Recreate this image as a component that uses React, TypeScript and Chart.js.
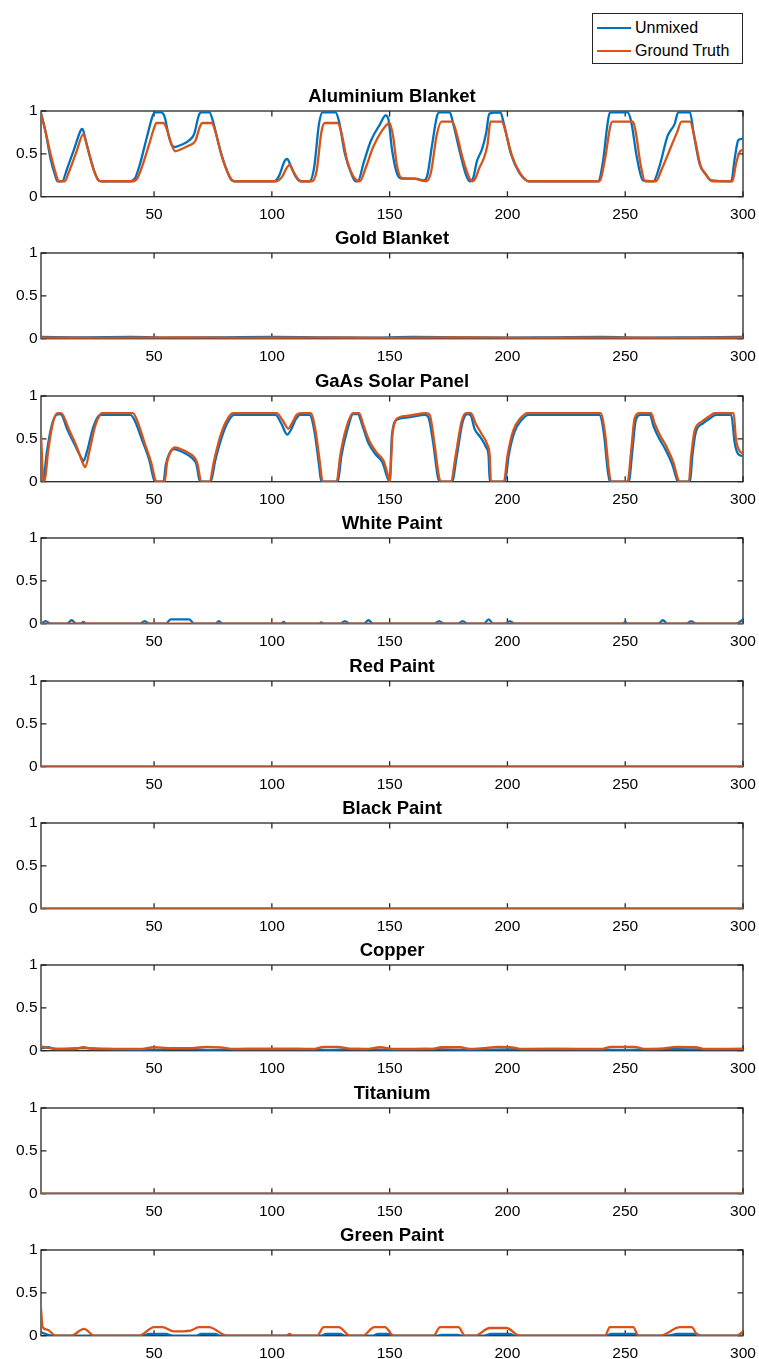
import React, { useEffect, useRef } from "react";
import { Chart, registerables } from "chart.js";

Chart.register(...registerables);

type Pt = [number, number];

const FONT = "'Liberation Sans', Arial, Helvetica, sans-serif";
const BLUE = "#0072BD";
const ORANGE = "#D95319";
const AXIS_COLOR = "#262626";

const xMin = 2;
const xMax = 300;
const xTickValues = [50, 100, 150, 200, 250, 300];
const yTickValues = [0, 0.5, 1];
const seriesNames = ["Unmixed", "Ground Truth"];
const panelTitles = [
  "Aluminium Blanket",
  "Gold Blanket",
  "GaAs Solar Panel",
  "White Paint",
  "Red Paint",
  "Black Paint",
  "Copper",
  "Titanium",
  "Green Paint",
];

const aluminiumUnmixed: Pt[] = [
  [2, 0.98], [4, 0.75], [6, 0.45], [8, 0.25], [9, 0.18], [11, 0.18], [13, 0.32], [16, 0.55], [19, 0.78], [19.6, 0.79],
  [21, 0.65], [24, 0.35], [26.5, 0.19], [28, 0.18], [40, 0.18], [42, 0.22], [44, 0.38], [47, 0.7], [49.5, 0.95], [50.5, 0.985],
  [53, 0.985], [54.5, 0.93], [56.5, 0.68], [58.5, 0.58], [62, 0.61], [65, 0.66], [67, 0.73], [69, 0.95], [70, 0.985], [73.5, 0.985],
  [75, 0.88], [78, 0.55], [81, 0.3], [83, 0.19], [85, 0.18], [101, 0.18], [103, 0.24], [105.5, 0.42], [106.5, 0.44], [108, 0.36],
  [110, 0.24], [112, 0.18], [116, 0.18], [118, 0.35], [120, 0.85], [121.5, 0.985], [127, 0.985], [128.5, 0.88], [131, 0.5], [134, 0.25],
  [135.5, 0.18], [136.5, 0.18], [139, 0.4], [142, 0.65], [146, 0.85], [148.3, 0.95], [149.5, 0.9], [151, 0.55], [153, 0.28], [155, 0.21],
  [161, 0.21], [164.5, 0.19], [166, 0.25], [168, 0.6], [170, 0.93], [171, 0.985], [175.5, 0.985], [177, 0.85], [180, 0.5], [182.5, 0.25],
  [184, 0.18], [185.5, 0.22], [187, 0.41], [189.3, 0.56], [191, 0.75], [192.3, 0.97], [197, 0.985], [198.5, 0.85], [201.5, 0.5], [205, 0.28],
  [208, 0.19], [209, 0.18], [238.5, 0.18], [240.5, 0.4], [242.5, 0.85], [243.5, 0.985], [251, 0.985], [252.5, 0.88], [255, 0.45], [257.5, 0.19],
  [262, 0.18], [264.5, 0.35], [268, 0.71], [271, 0.85], [272.5, 0.985], [277.5, 0.985], [279, 0.75], [281.6, 0.38], [284, 0.27], [286.5, 0.19],
  [295, 0.18], [296.5, 0.45], [298, 0.66], [300, 0.68],
];
const aluminiumTruth: Pt[] = [
  [2, 0.97], [4, 0.75], [6.5, 0.45], [8.5, 0.25], [9.5, 0.18], [12, 0.18], [14, 0.3], [17, 0.52], [20, 0.73], [21.5, 0.6],
  [24.5, 0.3], [27, 0.18], [41, 0.18], [43, 0.22], [45, 0.36], [48, 0.62], [50, 0.8], [51, 0.86], [54, 0.86], [55.5, 0.78],
  [57.5, 0.6], [59, 0.53], [62, 0.56], [65, 0.6], [67.5, 0.65], [69.5, 0.82], [70.5, 0.86], [74.5, 0.86], [76, 0.76], [79, 0.45],
  [82, 0.24], [84, 0.18], [102, 0.18], [104, 0.22], [107.5, 0.37], [109, 0.3], [111, 0.21], [112.5, 0.18], [117, 0.18], [119, 0.3],
  [121, 0.75], [122.5, 0.86], [128, 0.86], [129.5, 0.75], [132, 0.42], [135, 0.22], [137.3, 0.18], [140, 0.35], [143, 0.58], [147, 0.78],
  [150, 0.86], [151.5, 0.7], [153, 0.38], [155, 0.22], [160, 0.21], [165.5, 0.18], [167.5, 0.28], [170, 0.72], [172, 0.875], [176.5, 0.875],
  [178, 0.78], [181, 0.45], [183.5, 0.24], [185, 0.18], [186.5, 0.22], [188, 0.33], [190, 0.45], [191.5, 0.6], [192.8, 0.875], [197.7, 0.875],
  [199, 0.78], [202, 0.47], [205.5, 0.27], [209, 0.18], [239, 0.18], [241.5, 0.45], [243.5, 0.8], [244.5, 0.875], [253.3, 0.875], [254.5, 0.75],
  [256.5, 0.38], [258.5, 0.18], [263, 0.18], [265.5, 0.32], [269.7, 0.6], [272, 0.75], [273.9, 0.875], [277.5, 0.875], [279.5, 0.68], [282, 0.36],
  [284.5, 0.25], [287, 0.18], [295.5, 0.18], [297, 0.38], [298.5, 0.52], [300, 0.55],
];

const goldUnmixed: Pt[] = [
  [2, 0.02], [20, 0.015], [40, 0.02], [60, 0.012], [80, 0.016], [100, 0.02], [120, 0.015], [140, 0.012], [160, 0.02],
  [180, 0.015], [200, 0.012], [220, 0.016], [240, 0.02], [260, 0.012], [280, 0.016], [300, 0.02],
];
const goldTruth: Pt[] = [
  [2, 0.012], [30, 0.01], [60, 0.014], [90, 0.01], [120, 0.012], [150, 0.01], [180, 0.014], [210, 0.01], [240, 0.012],
  [270, 0.01], [300, 0.012],
];

const gaasUnmixed: Pt[] = [
  [2, 0.0], [3, 0.02], [4.5, 0.35], [6.5, 0.65], [8.5, 0.78], [10, 0.79], [11, 0.77], [13, 0.62], [16, 0.45], [19.5, 0.26],
  [20, 0.24], [21.5, 0.35], [24, 0.62], [26.5, 0.77], [27.5, 0.78], [40, 0.78], [42, 0.7], [45, 0.48], [48, 0.25], [50, 0.02],
  [51, 0], [54, 0], [55, 0.2], [56.5, 0.33], [58.5, 0.38], [60, 0.37], [64.5, 0.31], [67, 0.25], [68, 0.2], [69.5, 0],
  [74, 0], [76, 0.25], [78.5, 0.5], [81, 0.68], [84, 0.78], [101.5, 0.78], [104, 0.68], [106.5, 0.55], [108, 0.6], [110, 0.72],
  [112, 0.78], [116, 0.78], [118, 0.6], [120, 0.2], [121, 0], [128, 0], [129.5, 0.3], [132, 0.6], [134.5, 0.79], [136.5, 0.79],
  [138.5, 0.65], [141, 0.45], [144, 0.32], [147, 0.22], [149, 0.05], [150, 0.0], [151, 0.55], [153.5, 0.73], [158, 0.75], [165, 0.78],
  [166.5, 0.75], [168.5, 0.45], [170.5, 0.05], [171.5, 0], [176.5, 0], [178.5, 0.3], [181, 0.7], [183, 0.79], [184.5, 0.77], [186, 0.62],
  [188.5, 0.52], [191, 0.4], [192, 0.3], [192.5, 0], [199, 0], [200.5, 0.3], [203, 0.58], [206, 0.72], [209, 0.78], [239, 0.78],
  [241, 0.55], [242.5, 0.15], [243.5, 0], [251.5, 0], [253, 0.35], [254.5, 0.72], [256.5, 0.78], [260.5, 0.78], [262, 0.65], [264.5, 0.5],
  [267, 0.38], [270, 0.2], [272, 0.02], [272.5, 0], [277.5, 0], [278.5, 0.3], [280, 0.58], [283, 0.68], [286, 0.74], [288.5, 0.78],
  [295, 0.78], [296.5, 0.45], [298, 0.32], [300, 0.3],
];
const gaasTruth: Pt[] = [
  [2, 0.55], [3, 0.02], [3.5, 0], [5, 0.35], [7, 0.68], [9, 0.8], [10.5, 0.8], [11.5, 0.77], [14, 0.6], [17, 0.42],
  [20, 0.2], [20.8, 0.17], [22.5, 0.35], [25, 0.65], [27, 0.78], [28, 0.8], [41, 0.8], [43, 0.7], [46, 0.45], [49, 0.2],
  [50.5, 0.02], [51, 0], [54.5, 0], [55.5, 0.22], [57, 0.35], [59, 0.4], [60.5, 0.39], [65, 0.33], [67.5, 0.27], [68.5, 0.2],
  [70, 0], [73.5, 0], [75.5, 0.25], [78, 0.52], [80.5, 0.7], [83.5, 0.8], [102, 0.8], [104.5, 0.72], [107, 0.62], [108.5, 0.68],
  [110.5, 0.78], [112.5, 0.8], [116.5, 0.8], [118.5, 0.6], [120.5, 0.2], [121.5, 0], [127.5, 0], [129, 0.3], [131.5, 0.62], [134.5, 0.8],
  [137, 0.8], [139, 0.65], [141.5, 0.47], [144.5, 0.34], [147.5, 0.24], [149.5, 0.05], [150, 0], [151.3, 0.58], [154, 0.75], [158, 0.77],
  [165.5, 0.8], [167, 0.78], [169, 0.45], [171, 0.05], [172, 0], [176, 0], [178, 0.3], [180.5, 0.7], [182.5, 0.8], [184.5, 0.8],
  [186.5, 0.68], [189, 0.56], [191.5, 0.43], [192.5, 0.3], [193, 0], [198.5, 0], [200, 0.3], [202.5, 0.6], [205.5, 0.74], [208.5, 0.8],
  [239.5, 0.8], [241.5, 0.55], [243, 0.15], [244, 0], [251, 0], [252.5, 0.35], [254, 0.74], [256, 0.8], [261, 0.8], [262.5, 0.68],
  [265, 0.53], [267.5, 0.41], [270.5, 0.22], [272.5, 0.02], [273, 0], [277, 0], [278, 0.3], [279.5, 0.6], [282.5, 0.7], [285.5, 0.76],
  [288, 0.8], [296, 0.8], [297, 0.5], [298.5, 0.36], [300, 0.33],
];

const whiteUnmixed: Pt[] = [
  [2, 0], [4, 0.03], [6, 0], [13, 0], [15, 0.04], [17, 0], [19, 0], [20, 0.02], [21, 0], [44, 0], [46, 0.03], [48, 0],
  [55, 0], [57, 0.05], [65, 0.05], [67, 0], [76, 0], [77.5, 0.03], [79, 0], [104, 0], [105, 0.02], [106, 0], [120, 0],
  [121, 0.015], [122, 0], [129, 0], [131, 0.03], [133, 0], [139, 0], [141, 0.04], [143, 0], [169, 0], [171, 0.03], [173, 0],
  [179, 0], [181, 0.03], [183, 0], [190, 0], [192, 0.05], [194, 0], [199, 0], [201, 0.03], [203, 0], [249, 0], [250, 0.02],
  [251, 0], [264, 0], [266, 0.04], [268, 0], [276, 0], [278, 0.03], [280, 0], [297, 0], [300, 0.05],
];
const whiteTruth: Pt[] = [[2, 0], [300, 0]];

const redUnmixed: Pt[] = [[2, 0], [300, 0]];
const redTruth: Pt[] = [[2, 0], [300, 0]];

const blackUnmixed: Pt[] = [[2, 0], [300, 0]];
const blackTruth: Pt[] = [[2, 0], [300, 0]];

const copperUnmixed: Pt[] = [
  [2, 0.03], [5, 0.04], [8, 0.02], [20, 0.03], [30, 0.02], [50, 0.01], [60, 0.02], [75, 0.01], [90, 0.02], [110, 0.02],
  [125, 0.01], [135, 0.02], [150, 0.01], [165, 0.02], [180, 0.01], [200, 0.015], [220, 0.02], [250, 0.01], [265, 0.02],
  [280, 0.015], [300, 0.02],
];
const copperTruth: Pt[] = [
  [2, 0.05], [6, 0.03], [10, 0.02], [16, 0.02], [20, 0.04], [24, 0.02], [44, 0.02], [50, 0.04], [56, 0.03], [66, 0.03],
  [72, 0.045], [78, 0.04], [84, 0.02], [118, 0.02], [122, 0.045], [128, 0.045], [134, 0.02], [140, 0.02], [146, 0.04],
  [152, 0.02], [168, 0.02], [172, 0.04], [180, 0.04], [184, 0.02], [190, 0.03], [196, 0.045], [202, 0.04], [206, 0.02],
  [240, 0.02], [244, 0.045], [254, 0.045], [258, 0.02], [264, 0.02], [272, 0.045], [280, 0.04], [284, 0.02], [300, 0.02],
];

const titaniumUnmixed: Pt[] = [[2, 0], [300, 0]];
const titaniumTruth: Pt[] = [[2, 0], [300, 0]];

const greenUnmixed: Pt[] = [
  [2, 0.04], [4, 0.02], [7, 0], [45, 0], [48, 0.02], [55, 0.02], [58, 0], [68, 0], [70, 0.02], [76, 0.02], [78, 0],
  [121, 0], [123, 0.02], [129, 0.02], [131, 0], [143, 0], [145, 0.02], [149, 0.02], [151, 0], [170, 0], [172, 0.01],
  [179, 0.01], [181, 0], [190, 0], [193, 0.02], [201, 0.02], [203, 0], [242, 0], [244, 0.02], [254, 0.02], [256, 0],
  [268, 0], [272, 0.02], [280, 0.02], [282, 0], [300, 0],
];
const greenTruth: Pt[] = [
  [2, 0.32], [2.7, 0.1], [4.7, 0.07], [8.3, 0], [14.7, 0], [20.3, 0.08], [24.6, 0], [43.6, 0], [50, 0.1], [53.5, 0.1],
  [58.4, 0.05], [65.5, 0.06], [69, 0.1], [73.3, 0.1], [81, 0], [106, 0], [107.5, 0.02], [109, 0], [119.2, 0], [122, 0.1],
  [128.4, 0.1], [133.3, 0], [138.5, 0], [143.5, 0.1], [148, 0.1], [151.7, 0], [168.6, 0], [171.4, 0.1], [179.2, 0.1],
  [182, 0], [186.2, 0], [192.5, 0.09], [199.6, 0.09], [205.2, 0], [241.4, 0], [243.5, 0.1], [253.4, 0.1], [255.6, 0],
  [264.8, 0], [273.3, 0.1], [278.2, 0.1], [281, 0], [297.3, 0], [300, 0.05],
];

const unmixedSeries: Pt[][] = [
  aluminiumUnmixed, goldUnmixed, gaasUnmixed, whiteUnmixed, redUnmixed,
  blackUnmixed, copperUnmixed, titaniumUnmixed, greenUnmixed,
];
const truthSeries: Pt[][] = [
  aluminiumTruth, goldTruth, gaasTruth, whiteTruth, redTruth,
  blackTruth, copperTruth, titaniumTruth, greenTruth,
];

// layout constants
const FIRST_TOP = 111;
const PANEL_STEP = 142.375;
const PLOT_H = 85.7;
const TITLE_H = 28;
const CANVAS_H = 142;
const X_AXIS_H = CANVAS_H - TITLE_H - PLOT_H;
const Y_AXIS_W = 41;
const RIGHT_PAD = 16;
const TICK_LEN = 5.5;
const LINE_W = 2.3;

const framePlugin = {
  id: "matlabFrame",
  beforeDatasetsDraw(chart: any) {
    const { ctx, chartArea: a, scales } = chart;
    ctx.save();
    ctx.strokeStyle = AXIS_COLOR;
    ctx.lineWidth = 1.3;
    ctx.strokeRect(a.left, a.top, a.right - a.left, a.bottom - a.top);
    ctx.beginPath();
    xTickValues.forEach((v) => {
      const px = scales.x.getPixelForValue(v);
      ctx.moveTo(px, a.bottom);
      ctx.lineTo(px, a.bottom - TICK_LEN);
      ctx.moveTo(px, a.top);
      ctx.lineTo(px, a.top + TICK_LEN);
    });
    yTickValues.forEach((v) => {
      const py = scales.y.getPixelForValue(v);
      ctx.moveTo(a.left, py);
      ctx.lineTo(a.left + TICK_LEN, py);
      ctx.moveTo(a.right, py);
      ctx.lineTo(a.right - TICK_LEN, py);
    });
    ctx.stroke();
    ctx.restore();
  },
};

function toXY(pts: Pt[]) {
  return pts.map(([x, y]) => ({ x, y }));
}

function Panel({ index }: { index: number }) {
  const ref = useRef<HTMLCanvasElement>(null);
  useEffect(() => {
    if (!ref.current) return;
    const lineStyle = {
      borderWidth: LINE_W,
      pointRadius: 0,
      cubicInterpolationMode: "monotone",
      borderJoinStyle: "round",
      borderCapStyle: "round",
    };
    const chart = new Chart(ref.current, {
      type: "line",
      data: {
        datasets: [
          {
            label: seriesNames[0],
            data: toXY(unmixedSeries[index]),
            borderColor: BLUE,
            backgroundColor: BLUE,
            ...lineStyle,
            order: 1,
          },
          {
            label: seriesNames[1],
            data: toXY(truthSeries[index]),
            borderColor: ORANGE,
            backgroundColor: ORANGE,
            ...lineStyle,
            order: 0,
          },
        ],
      } as any,
      options: {
        responsive: false,
        animation: false,
        events: [],
        layout: { padding: { left: 0, right: RIGHT_PAD, top: 0, bottom: 0 } },
        plugins: {
          legend: { display: false },
          tooltip: { enabled: false },
          title: {
            display: true,
            text: panelTitles[index],
            fullSize: false,
            color: "#000",
            font: { family: FONT, size: 18.5, weight: "bold", lineHeight: 1.2 },
            padding: { top: 2.5, bottom: TITLE_H - 2.5 - 22.2 },
          },
        },
        scales: {
          x: {
            type: "linear",
            min: xMin,
            max: xMax,
            grid: { display: false, drawTicks: false, tickLength: 0 },
            border: { display: false },
            afterFit: (s: any) => {
              s.height = X_AXIS_H;
              s.paddingLeft = 0;
              s.paddingRight = 0;
            },
            afterBuildTicks: (s: any) => {
              s.ticks = xTickValues.map((v) => ({ value: v }));
            },
            ticks: {
              color: "#000",
              font: { family: FONT, size: 15.5, lineHeight: 1.2 },
              padding: 8.5,
              maxRotation: 0,
              autoSkip: false,
            },
          },
          y: {
            type: "linear",
            min: 0,
            max: 1,
            grid: { display: false, drawTicks: false, tickLength: 0 },
            border: { display: false },
            afterFit: (s: any) => {
              s.width = Y_AXIS_W;
              s.paddingTop = 0;
              s.paddingBottom = 0;
            },
            afterBuildTicks: (s: any) => {
              s.ticks = yTickValues.map((v) => ({ value: v }));
            },
            ticks: {
              color: "#000",
              font: { family: FONT, size: 15.5, lineHeight: 1.2 },
              padding: 3.5,
              callback: (v: any) => String(v),
            },
          },
        },
      } as any,
      plugins: [framePlugin],
    });
    return () => chart.destroy();
  }, [index]);
  const top = Math.round(FIRST_TOP + index * PANEL_STEP - TITLE_H);
  return (
    <canvas
      ref={ref}
      width={759}
      height={CANVAS_H}
      style={{ position: "absolute", left: 0, top, width: 759, height: CANVAS_H, display: "block" }}
    />
  );
}

function Legend() {
  const rowYs = [13.7, 37];
  const colors = [BLUE, ORANGE];
  return (
    <div
      style={{
        position: "absolute",
        left: 592,
        top: 13,
        width: 151,
        height: 51,
        boxSizing: "border-box",
        border: `1px solid ${AXIS_COLOR}`,
        background: "#fff",
        fontFamily: FONT,
        fontSize: 16,
        color: "#000",
      }}
    >
      {seriesNames.map((name, i) => (
        <React.Fragment key={name}>
          <div
            style={{
              position: "absolute",
              left: 4,
              top: rowYs[i] - 1,
              width: 34,
              height: 2,
              background: colors[i],
            }}
          />
          <div
            style={{
              position: "absolute",
              left: 42,
              top: rowYs[i] - 10,
              height: 20,
              lineHeight: "20px",
              whiteSpace: "nowrap",
            }}
          >
            {name}
          </div>
        </React.Fragment>
      ))}
    </div>
  );
}

export default function App() {
  return (
    <div
      style={{
        position: "absolute",
        left: 0,
        top: 0,
        width: 759,
        height: 1359,
        background: "#fff",
        overflow: "hidden",
      }}
    >
      {panelTitles.map((_, i) => (
        <Panel key={i} index={i} />
      ))}
      <Legend />
    </div>
  );
}
